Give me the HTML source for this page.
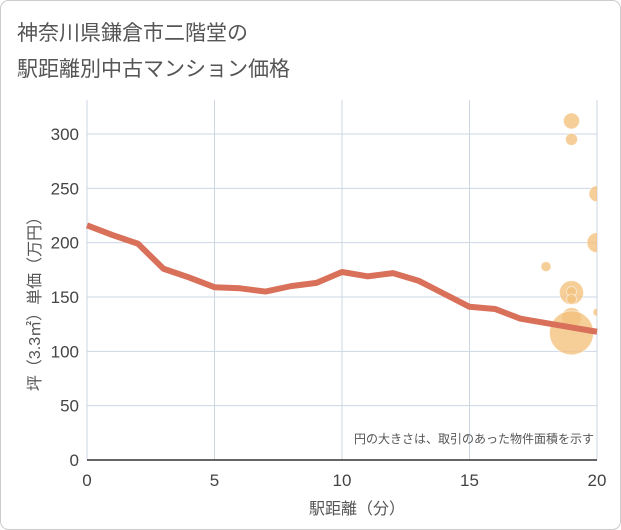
<!DOCTYPE html>
<html><head><meta charset="utf-8"><style>
body{margin:0;background:#fff;}
svg{display:block;font-family:"Liberation Sans","Noto Sans CJK JP",sans-serif;}
</style></head><body>
<svg width="621" height="530">
<rect x="0.5" y="0.5" width="620" height="529" rx="8" fill="#fff" stroke="#ccc"/>
<text x="17" y="40" font-size="21" fill="#555">神奈川県鎌倉市二階堂の</text>
<text x="17" y="76" font-size="21" fill="#555">駅距離別中古マンション価格</text>
<defs><clipPath id="pc"><rect x="87" y="100" width="510" height="360"/></clipPath></defs>
<g id="grid"></g>
<g id="axes"></g>
<g id="bubbles" clip-path="url(#pc)"></g>
<g id="line"></g>
<text x="594" y="443" font-size="12" fill="#555" text-anchor="end">円の大きさは、取引のあった物件面積を示す</text>
<text x="357" y="514" font-size="16" fill="#555" text-anchor="middle">駅距離（分）</text>
<text transform="translate(40,300) rotate(-90)" font-size="16" fill="#555" text-anchor="middle">坪（3.3㎡）単価（万円）</text>
</svg>
<script>
const xTicks=[0,5,10,15,20];
const yTicks=[0,50,100,150,200,250,300];
const lineX=[0,1,2,3,4,5,6,7,8,9,10,11,12,13,14,15,16,17,18,19,20];
const lineY=[216,207,199,176,168,159,158,155,160,163,173,169,172,165,153,141,139,130,126,122,118];
const bubX=[19,19,20,20,18,19,19,19,19,19,20];
const bubY=[312,295,245,200,178,154,155,148,131,117,136];
const bubR=[8,6,8,10,5,12,5,5,10,22,4];
const NS="http://www.w3.org/2000/svg";
const xs=v=>87+v*25.5, ys=v=>460-v*1.0867;
function mk(t,a,p){const e=document.createElementNS(NS,t);for(const k in a)e.setAttribute(k,a[k]);p.appendChild(e);return e;}
const g=document.getElementById('grid'),ax=document.getElementById('axes');
xTicks.forEach(t=>{const l=mk('line',{x1:xs(t),x2:xs(t),y1:100,y2:460,stroke:'#ccd6e3'},g);


const tx=mk('text',{x:xs(t),y:486,'font-size':17,fill:'#444','text-anchor':'middle'},ax);tx.textContent=t;

});
yTicks.forEach(t=>{const l=mk('line',{x1:87,x2:597,y1:ys(t),y2:ys(t),stroke:'#ccd6e3'},g);


const tx=mk('text',{x:79,y:ys(t)+6,'font-size':17,fill:'#444','text-anchor':'end'},ax);tx.textContent=t;

});
const xa=mk('line',{x1:87,x2:597,y1:460,y2:460,stroke:'#333','stroke-width':1.5},ax);


const bg=document.getElementById('bubbles');
bubX.forEach((x,i)=>{const c=mk('circle',{cx:xs(x),cy:ys(bubY[i]),r:bubR[i],fill:'#f3c27e','fill-opacity':0.8,stroke:'#fff','stroke-opacity':0.5},bg);

});
const p=mk('polyline',{points:lineX.map((x,i)=>xs(x)+','+ys(lineY[i])).join(' '),fill:'none',stroke:'#d9705a','stroke-width':6,'stroke-linejoin':'round'},document.getElementById('line'));


</script>
</body></html>
